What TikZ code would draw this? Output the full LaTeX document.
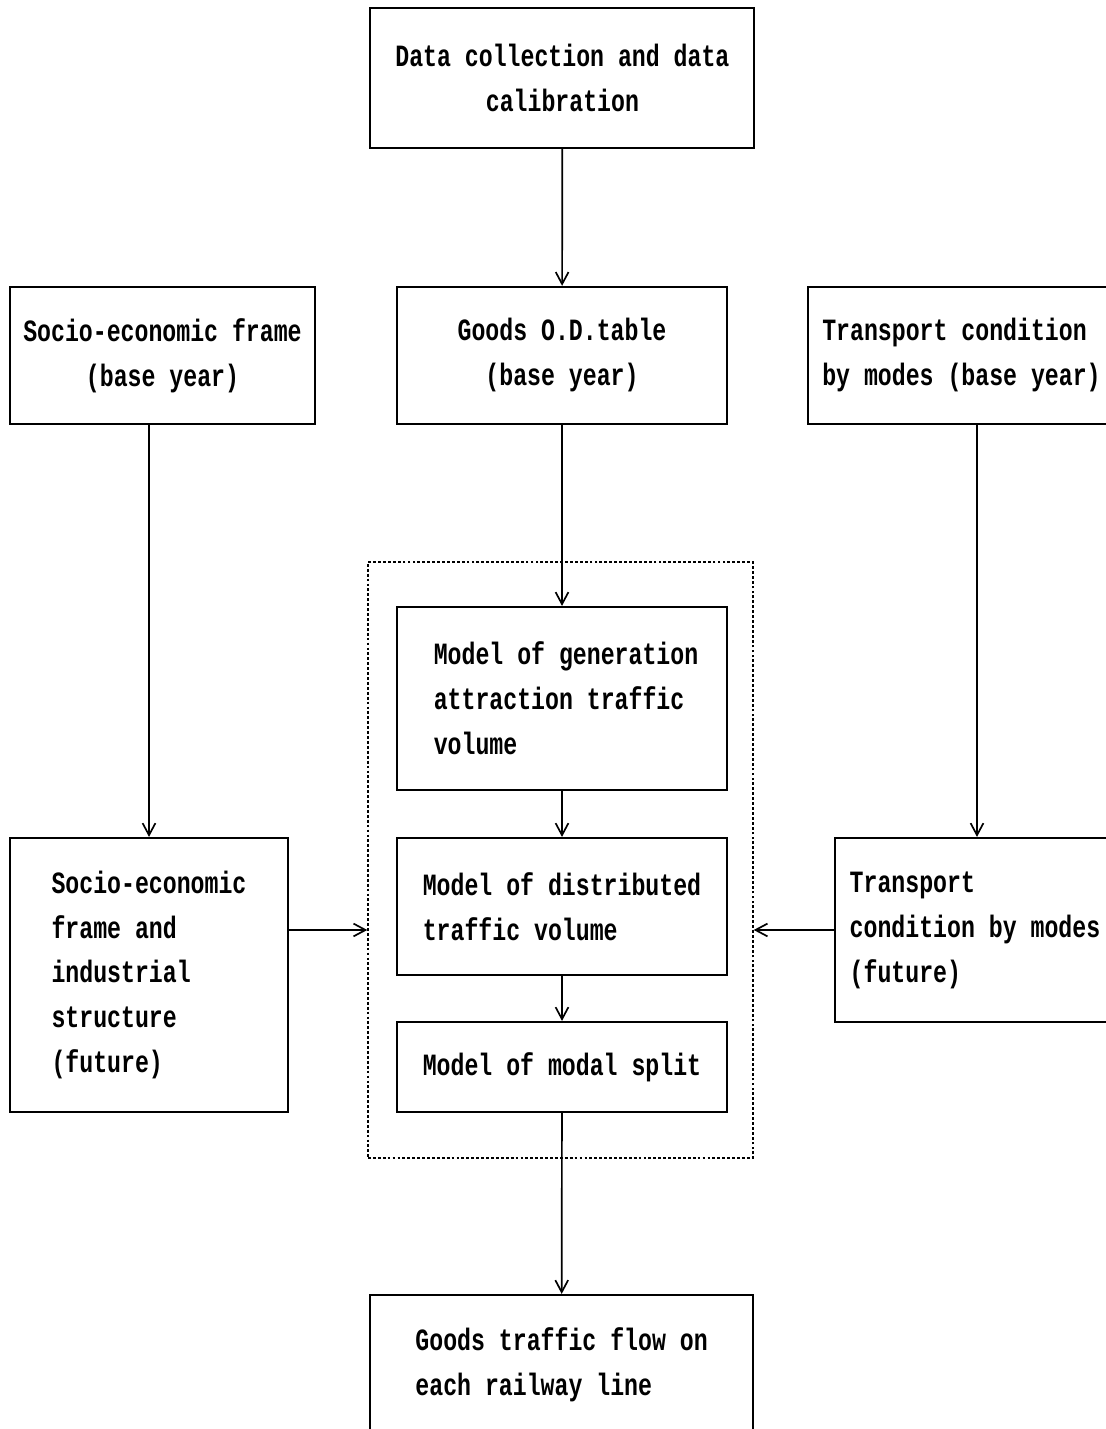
\documentclass[tikz,border=0pt]{standalone}
\usepackage{fontspec}
\newfontfamily\chartfont[FakeStretch=0.75]{Liberation Mono}
\usetikzlibrary{arrows.meta,positioning}

\begin{document}
\begin{tikzpicture}[
  box/.style={draw, line width=1.5pt, inner sep=0pt, align=center,
              font=\chartfont\bfseries\fontsize{22}{32}\selectfont},
  lbox/.style={box, align=left},
  frame/.style={draw, line width=1pt, dash pattern=on 2pt off 1.5pt, inner sep=0pt},
  flow/.style={draw, line width=1.2pt, -{Straight Barb[length=3mm,width=3.2mm]}}
]
  \useasboundingbox (0,0) rectangle (27.65,35.725);

  % top row
  \node[box, minimum width=9.6cm, minimum height=3.5cm] (data) at (14.06,33.775)
    {Data collection and data\\calibration};

  % base year
  \node[box, minimum width=7.625cm, minimum height=3.425cm] (socbase) at (4.0625,26.84)
    {Socio-economic frame\\(base year)};
  \node[box, minimum width=8.25cm, minimum height=3.425cm] (odtable) at (14.05,26.84)
    {Goods O.D.table\\(base year)};
  \node[lbox, minimum width=7.675cm, minimum height=3.425cm] (trbase) at (24.0375,26.84)
    {Transport condition\\by modes (base year)};

  % model block
  \node[frame, minimum width=9.625cm, minimum height=14.9cm] (models) at (14.0125,14.225) {};
  \node[lbox, minimum width=8.25cm, minimum height=4.575cm] (gen) at (14.05,18.2625)
    {\hspace*{0.2cm}Model of generation\\\hspace*{0.2cm}attraction traffic\\\hspace*{0.2cm}volume};
  \node[lbox, minimum width=8.25cm, minimum height=3.425cm] (dist) at (14.05,13.0625)
    {Model of distributed\\traffic volume};
  \node[box, minimum width=8.25cm, minimum height=2.25cm] (modal) at (14.05,9.05)
    {Model of modal split};

  % future
  \node[lbox, minimum width=6.95cm, minimum height=6.85cm] (socfut) at (3.725,11.35)
    {Socio-economic\\frame and\\industrial\\structure\\(future)};
  \node[lbox, minimum width=7cm, minimum height=4.6cm] (trfut) at (24.375,12.475)
    {Transport\\condition by modes\\(future)};

  % result
  \node[lbox, minimum width=9.575cm, minimum height=3.5cm] (result) at (14.04,1.6)
    {Goods traffic flow on\\each railway line};

  % connectors
  \draw[flow] (data) -- (odtable);
  \draw[flow] (odtable) -- (gen);
  \draw[flow] (gen) -- (dist);
  \draw[flow] (dist) -- (modal);
  \draw[flow] (modal) -- (result);
  \draw[flow] (socfut.north |- socbase.south) -- (socfut.north);
  \draw[flow] ([xshift=0.05cm]trfut.north |- trbase.south) -- ([xshift=0.05cm]trfut.north);
  \draw[flow] (socfut.east |- trfut.west) -- (models.west |- trfut.west);
  \draw[flow] (trfut.west) -- (models.east |- trfut.west);
\end{tikzpicture}
\end{document}
